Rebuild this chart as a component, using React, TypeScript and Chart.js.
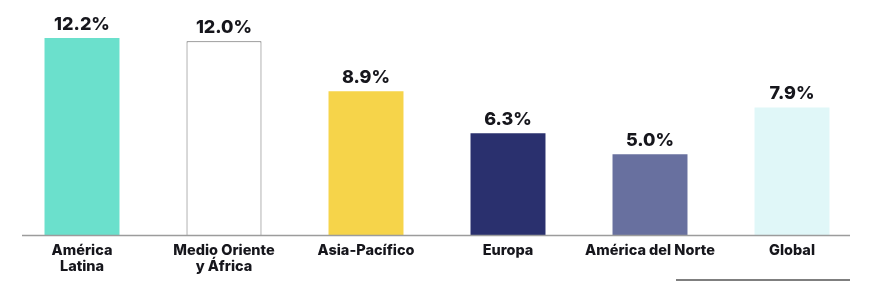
import React, { useEffect, useRef } from "react";
import { Chart, registerables } from "chart.js";

Chart.register(...registerables);

const categories: (string | string[])[] = [
  ["América", "Latina"],
  ["Medio Oriente", "y África"],
  "Asia-Pacífico",
  "Europa",
  "América del Norte",
  "Global",
];
const growth = [12.2, 12.0, 8.9, 6.3, 5.0, 7.9];
const valueLabels = ["12.2%", "12.0%", "8.9%", "6.3%", "5.0%", "7.9%"];
const barColors = ["#6BE0CC", "#FFFFFF", "#F6D44A", "#2A306E", "#68709F", "#E0F7F8"];
const barBorderWidths = [0, 1, 0, 0, 0, 0];

const FONT = "Inter, 'Noto Sans', sans-serif";
const TEXT = "#16161c";

const decorPlugin = {
  id: "decor",
  afterDatasetsDraw(chart: any) {
    const { ctx, chartArea } = chart;
    const meta = chart.getDatasetMeta(0);
    ctx.save();
    // axis line
    ctx.strokeStyle = "#9c9c9c";
    ctx.lineWidth = 1.5;
    ctx.beginPath();
    ctx.moveTo(14, chartArea.bottom + 0.5);
    ctx.lineTo(842, chartArea.bottom + 0.5);
    ctx.stroke();
    // bottom rule
    ctx.strokeStyle = "#555555";
    ctx.lineWidth = 1.5;
    ctx.beginPath();
    ctx.moveTo(668, 272);
    ctx.lineTo(842, 272);
    ctx.stroke();
    // value labels
    ctx.fillStyle = TEXT;
    ctx.font = `800 18px ${FONT}`;
    ctx.textAlign = "center";
    ctx.textBaseline = "alphabetic";
    meta.data.forEach((bar: any, i: number) => {
      ctx.fillText(valueLabels[i], bar.x, bar.y - 8);
    });
    ctx.restore();
  },
};

export default function App() {
  const ref = useRef<HTMLCanvasElement>(null);
  useEffect(() => {
    if (!ref.current) return;
    const chart = new Chart(ref.current, {
      type: "bar",
      data: {
        labels: categories,
        datasets: [
          {
            data: growth,
            backgroundColor: barColors,
            borderColor: "#666666",
            borderWidth: barBorderWidths,
            barPercentage: 0.528,
            categoryPercentage: 1,
          },
        ],
      },
      options: {
        animation: false,
        responsive: false,
        maintainAspectRatio: false,
        layout: { padding: { top: 1, left: 3, right: 1, bottom: 0 } },
        plugins: {
          legend: { display: false },
          tooltip: { enabled: false },
        },
        scales: {
          y: { display: false, min: 0, max: 14 },
          x: {
            grid: { display: false, drawTicks: false, tickLength: 0 },
            border: { display: false },
            ticks: {
              color: TEXT,
              padding: 7,
              font: { family: FONT, weight: "800", size: 14.5, lineHeight: 1.15 },
              maxRotation: 0,
              autoSkip: false,
            },
            afterFit(scale: any) {
              scale.height = 51;
            },
          },
        },
      },
      plugins: [decorPlugin],
    });
    return () => chart.destroy();
  }, []);
  return (
    <div style={{ width: 856, height: 278 }}>
      <canvas ref={ref} width={856} height={278} style={{ display: "block" }} />
    </div>
  );
}
